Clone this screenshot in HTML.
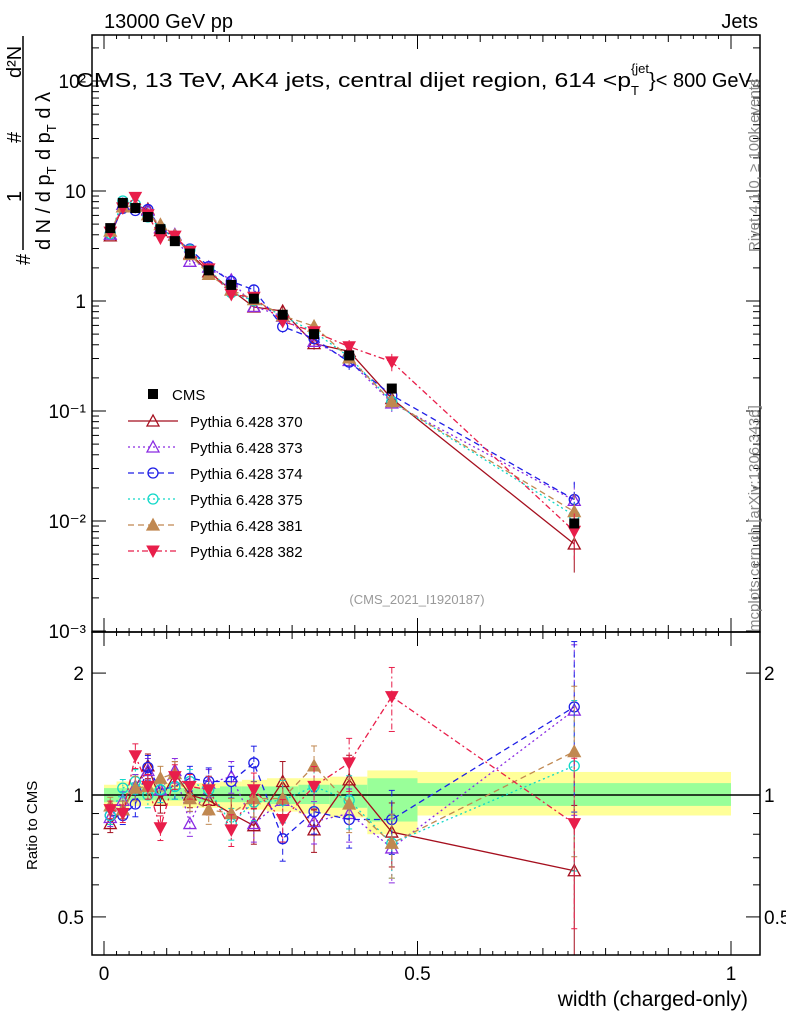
<!DOCTYPE html>
<html><head><meta charset="utf-8"><style>
body{margin:0;background:#fff;position:relative;width:786px;height:1024px;overflow:hidden}
svg{font-family:"Liberation Sans",sans-serif;position:absolute;left:0;top:0}
.rot{position:absolute;font-family:"Liberation Sans",sans-serif;color:#888;font-size:15px;white-space:nowrap;transform-origin:0 0;transform:rotate(-90deg)}
</style></head><body>
<svg id="c" width="786" height="1024" viewBox="0 0 786 1024" xmlns="http://www.w3.org/2000/svg">
<text x="104" y="28" font-size="20">13000 GeV pp</text>
<text x="758" y="28" font-size="20" text-anchor="end">Jets</text>
<text x="417" y="604" font-size="13" fill="#999" text-anchor="middle">(CMS_2021_I1920187)</text>
<g font-size="20">
<line x1="23" y1="36" x2="23" y2="250" stroke="#000" stroke-width="1.5"/>
<text transform="translate(21,78) rotate(-90)">d²N</text>
<text transform="translate(21,143) rotate(-90)">#</text>
<text transform="translate(21,202) rotate(-90)">1</text>
<text transform="translate(50,160) rotate(-90)">d p<tspan font-size="13" dy="6">T</tspan><tspan dy="-6"> d λ</tspan></text>
<text transform="translate(50,250) rotate(-90)">d N / d p<tspan font-size="13" dy="6">T</tspan></text>
<text transform="translate(30,265) rotate(-90)">#</text>
</g>
<text transform="translate(37,870) rotate(-90)" font-size="15">Ratio to CMS</text>
<text x="748" y="1006" font-size="21" text-anchor="end">width (charged-only)</text>
<g id="plot"></g>
<text x="76" y="87" font-size="20"><tspan textLength="555" lengthAdjust="spacingAndGlyphs">CMS, 13 TeV, AK4 jets, central dijet region, 614 &lt;p</tspan><tspan font-size="13" dy="8">T</tspan><tspan font-size="13" dy="-22" dx="-8">{jet</tspan><tspan dy="14">}&lt; 800 GeV</tspan></text>
</svg>
<div class="rot" style="left:746px;top:252px">Rivet 4.1.0, ≥ 100k events</div>
<div class="rot" style="left:746px;top:632px">mcplots.cern.ch [arXiv:1306.3436]</div>
<script>
const edges=[0,0.02,0.04,0.06,0.08,0.1,0.125,0.15,0.185,0.22,0.26,0.31,0.36,0.42,0.5,1.0];
const xc=[0.01,0.03,0.05,0.07,0.09,0.113,0.137,0.167,0.203,0.239,0.285,0.335,0.391,0.459,0.75];
const cms=[4.6,7.8,7.0,5.8,4.5,3.5,2.7,1.9,1.4,1.05,0.75,0.5,0.32,0.16,0.0095];
const greenLo=[0.96,0.96,0.97,0.97,0.97,0.97,0.97,0.96,0.96,0.96,0.95,0.95,0.93,0.86,0.94];
const greenHi=[1.04,1.04,1.04,1.04,1.04,1.04,1.04,1.04,1.05,1.05,1.05,1.06,1.06,1.1,1.07];
const yelLo=[0.93,0.93,0.94,0.94,0.94,0.94,0.93,0.93,0.92,0.92,0.91,0.9,0.88,0.8,0.89];
const yelHi=[1.06,1.08,1.07,1.07,1.07,1.07,1.07,1.07,1.08,1.09,1.1,1.1,1.11,1.15,1.14];
const relErr=[0.05,0.05,0.07,0.07,0.07,0.07,0.07,0.08,0.09,0.1,0.12,0.12,0.15,0.18,0.45];
const r370=[0.85,0.92,1.05,1.18,0.97,1.13,1.0,0.97,0.9,0.84,1.08,0.82,1.09,0.81,0.65];
const r373=[0.88,0.97,1.05,1.15,1.03,1.15,0.85,1.07,1.11,0.85,0.97,0.86,0.9,0.74,1.62];
const r374=[0.89,0.89,0.95,1.17,1.03,1.05,1.1,1.08,1.08,1.2,0.78,0.91,0.87,0.87,1.65];
const r375=[0.89,1.04,1.08,1.0,1.03,1.05,1.08,1.03,0.85,0.96,0.97,1.05,0.97,0.76,1.18];
const r381=[0.94,0.92,1.04,1.05,1.1,1.13,0.98,0.92,0.9,0.98,0.98,1.18,0.95,0.76,1.28];
const r382=[0.92,0.9,1.25,1.05,0.83,1.11,1.05,1.03,0.82,1.03,0.87,1.05,1.2,1.75,0.85];
const xTicks=[0,0.5,1];
const series=[
 {name:"Pythia 6.428 370",r:r370,c:"#a50f1e",m:"tri",fill:false,dash:""},
 {name:"Pythia 6.428 373",r:r373,c:"#8a2be2",m:"tri",fill:false,dash:"2,3"},
 {name:"Pythia 6.428 374",r:r374,c:"#1e1ee6",m:"circ",fill:false,dash:"6,4"},
 {name:"Pythia 6.428 375",r:r375,c:"#10d8c8",m:"circ",fill:false,dash:"2,3"},
 {name:"Pythia 6.428 381",r:r381,c:"#c08850",m:"tri",fill:true,dash:"6,4"},
 {name:"Pythia 6.428 382",r:r382,c:"#e81e4a",m:"tridown",fill:true,dash:"6,3,2,3"}];
const NS="http://www.w3.org/2000/svg";
const g=document.getElementById('plot');
const L=92,R=760,T=35,MB=632,RB=955;
const X=v=>104+627*v;
const Y=v=>301-110*Math.log10(v);
const YR=v=>795-405*Math.log10(v);
function mk(t,a,p){const e=document.createElementNS(NS,t);for(const k in a)e.setAttribute(k,a[k]);(p||g).appendChild(e);return e;}
for(let i=0;i<15;i++){
 const y=mk('rect',{x:X(edges[i]),y:YR(yelHi[i]),width:X(edges[i+1])-X(edges[i]),height:YR(yelLo[i])-YR(yelHi[i]),fill:'#ffff99'});
 
 
 const gr=mk('rect',{x:X(edges[i]),y:YR(greenHi[i]),width:X(edges[i+1])-X(edges[i]),height:YR(greenLo[i])-YR(greenHi[i]),fill:'#99ff99'});
 
 
}
mk('line',{x1:L,x2:R,y1:YR(1),y2:YR(1),stroke:'#000','stroke-width':1.5});
function marker(m,x,y,c,fill,p){
 let e;
 if(m==="circ")e=mk('circle',{cx:x,cy:y,r:5,fill:fill?c:'none',stroke:c,'stroke-width':1.3},p);
 else if(m==="tri")e=mk('polygon',{points:`${x},${y-6} ${x-6},${y+5} ${x+6},${y+5}`,fill:fill?c:'none',stroke:c,'stroke-width':1.3},p);
 else if(m==="tridown")e=mk('polygon',{points:`${x},${y+6} ${x-6},${y-5} ${x+6},${y-5}`,fill:c,stroke:c},p);
 else e=mk('rect',{x:x-5,y:y-5,width:10,height:10,fill:c},p);
 return e;
}
function clip(v,lo,hi){return Math.max(lo,Math.min(hi,v));}
series.forEach(s=>{
 const gg=mk('g',{});
 
 
 const main=s.r.map((r,i)=>[X(xc[i]),Y(cms[i]*r)]);
 const rat=s.r.map((r,i)=>[X(xc[i]),YR(r)]);
 const pl=mk('polyline',{points:main.map(p=>p.join(',')).join(' '),fill:'none',stroke:s.c,'stroke-width':1.3,'stroke-dasharray':s.dash},gg);
 
 
 const pr=mk('polyline',{points:rat.map(p=>p.join(',')).join(' '),fill:'none',stroke:s.c,'stroke-width':1.3,'stroke-dasharray':s.dash},gg);
 
 
 s.r.forEach((r,i)=>{
  const x=X(xc[i]),v=cms[i]*r,e=relErr[i];
  mk('line',{x1:x,x2:x,y1:Y(v*(1+e)),y2:Y(v*(1-e)),stroke:s.c,'stroke-dasharray':s.dash},gg);
  mk('line',{x1:x,x2:x,y1:clip(YR(r*(1+e)),MB,RB),y2:clip(YR(r*(1-e)),MB,RB),stroke:s.c,'stroke-dasharray':s.dash},gg);
  [YR(r*(1+e)),YR(r*(1-e))].forEach(yy=>{if(yy>MB&&yy<RB)mk('line',{x1:x-3,x2:x+3,y1:yy,y2:yy,stroke:s.c},gg);});
  const m1=marker(s.m,x,Y(v),s.c,s.fill,gg);
  
  
  const yr=YR(r);
  if(yr>MB&&yr<RB){const m2=marker(s.m,x,yr,s.c,s.fill,gg);
  
  }
 });
});
cms.forEach((v,i)=>{
 const m=marker('sq',X(xc[i]),Y(v),'#000',true);
 
 
 mk('line',{x1:X(xc[i]),x2:X(xc[i]),y1:Y(v*1.05),y2:Y(v*0.95),stroke:'#000'});
});
mk('rect',{x:L,y:T,width:R-L,height:MB-T,fill:'none',stroke:'#000','stroke-width':1.5});
mk('rect',{x:L,y:MB,width:R-L,height:RB-MB,fill:'none',stroke:'#000','stroke-width':1.5});
const decLab=["10⁻³","10⁻²","10⁻¹","1","10","10²"];
for(let d=-3;d<=2;d++){
 for(let k=1;k<10;k++){
  const y=Y(k*Math.pow(10,d));if(y<T||y>MB)continue;
  const len=k===1?14:7;
  mk('line',{x1:L,x2:L+len,y1:y,y2:y,stroke:'#000'});
  mk('line',{x1:R,x2:R-len,y1:y,y2:y,stroke:'#000'});
 }
 const t=mk('text',{x:L-6,y:Y(Math.pow(10,d))+7,'font-size':19,'text-anchor':'end'});
 t.textContent=decLab[d+3];
 
 
}
[0.4,0.5,0.6,0.7,0.8,0.9,1,2].forEach(v=>{
 const y=YR(v);if(y<MB||y>RB)return;
 const len=(v===0.5||v===1||v===2)?14:7;
 mk('line',{x1:L,x2:L+len,y1:y,y2:y,stroke:'#000'});
 mk('line',{x1:R,x2:R-len,y1:y,y2:y,stroke:'#000'});
 if(len===14){
  const a=mk('text',{x:L-8,y:y+7,'font-size':19,'text-anchor':'end'});a.textContent=v;
  
  
  const b=mk('text',{x:R+4,y:y+7,'font-size':19});b.textContent=v;
  
  
 }
});
for(let i=-1;i<=13;i++){
 const v=i*0.1;if(v<-0.02)continue;const x=X(v);if(x<L||x>R)continue;
 const len=(i%5===0)?14:7;
 [[T,1],[MB,-1],[MB,1],[RB,-1]].forEach(([y,s])=>mk('line',{x1:x,x2:x,y1:y,y2:y+s*len,stroke:'#000'}));
 for(let j=1;j<5;j++){const xx=X(v+j*0.02);if(xx<R&&i<10)[[T,1],[MB,-1],[MB,1],[RB,-1]].forEach(([y,s])=>mk('line',{x1:xx,x2:xx,y1:y,y2:y+s*4,stroke:'#000'}));}
}
xTicks.forEach(v=>{const t=mk('text',{x:X(v),y:980,'font-size':19,'text-anchor':'middle'});t.textContent=v;
 
 });
const lg=mk('g',{});


marker('sq',153,394,'#000',true,lg);
const t0=mk('text',{x:172,y:400,'font-size':15},lg);t0.textContent="CMS";
series.forEach((s,i)=>{
 const y=421+i*26;
 mk('line',{x1:128,x2:178,y1:y,y2:y,stroke:s.c,'stroke-width':1.3,'stroke-dasharray':s.dash},lg);
 marker(s.m,153,y,s.c,s.fill,lg);
 const t=mk('text',{x:190,y:y+6,'font-size':15},lg);t.textContent=s.name;
 
 
});
</script>
</body></html>
